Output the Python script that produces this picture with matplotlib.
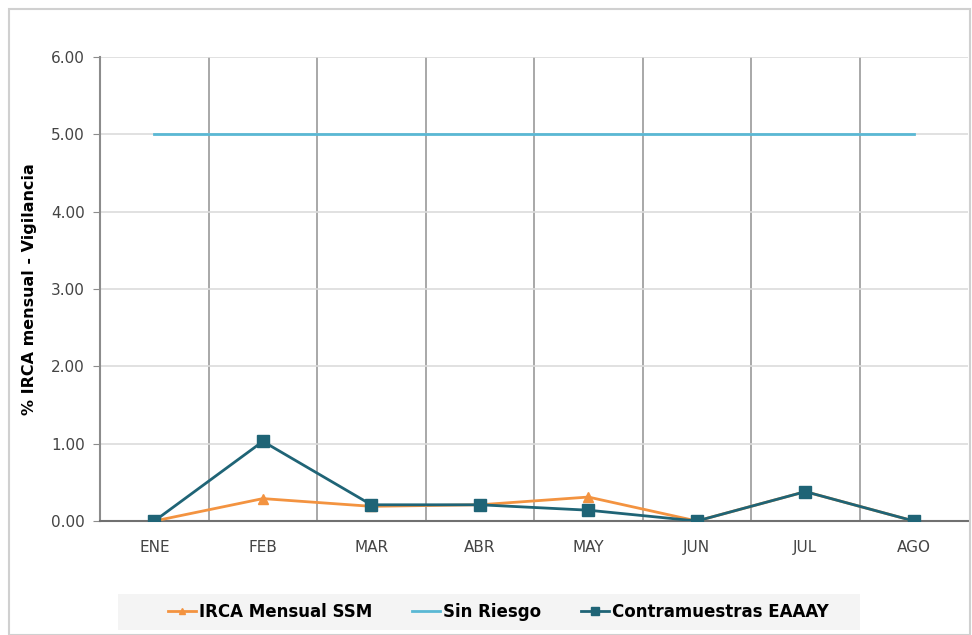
import numpy as np
import matplotlib.pyplot as plt
from matplotlib.patches import Rectangle

# data
meses = ["ENE", "FEB", "MAR", "ABR", "MAY", "JUN", "JUL", "AGO"]
irca_ssm = [0.0, 0.29, 0.19, 0.21, 0.31, 0.0, 0.38, 0.0]
sin_riesgo = [5.0, 5.0, 5.0, 5.0, 5.0, 5.0, 5.0, 5.0]
contramuestras = [0.0, 1.03, 0.21, 0.21, 0.14, 0.0, 0.38, 0.0]

x = np.arange(len(meses))

fig = plt.figure(figsize=(9.72, 6.35), dpi=100)
ax = fig.add_axes([0.103, 0.1795, 0.893, 0.7305])

# outer frame of the picture
fig.patches.append(Rectangle((0.009, 0.0), 0.989, 0.986, transform=fig.transFigure,
                             fill=False, edgecolor="#d0d0d0", lw=1.5))
# grey band behind the legend
fig.patches.append(Rectangle((118 / 972, 5 / 635), 742 / 972, 36 / 635, transform=fig.transFigure,
                             facecolor="#f4f4f4", edgecolor="none", zorder=0))

ax.plot(x, sin_riesgo, color="#5ab8d4", lw=2, label="Sin Riesgo", zorder=3)
ax.plot(x, irca_ssm, color="#f39340", lw=2, marker="^", ms=7, label="IRCA Mensual SSM", zorder=4)
ax.plot(x, contramuestras, color="#1f6476", lw=2, marker="s", ms=9, label="Contramuestras EAAAY", zorder=5)

ax.set_xlim(-0.5, 7.5)
ax.set_ylim(0, 6)
ax.set_xticks(x)
ax.set_xticklabels(meses)
ax.set_yticks(np.arange(0, 7, 1))
ax.set_yticklabels(["%.2f" % v for v in range(7)])
ax.set_xticks(np.arange(0.5, 7.5, 1), minor=True)

ax.grid(axis="y", color="#dcdcdc", lw=1.2)
ax.grid(axis="x", which="minor", color="#999999", lw=1.2)
ax.set_axisbelow(True)
for s in ["top", "right"]:
    ax.spines[s].set_visible(False)
ax.spines["left"].set_color("#8c8c8c")
ax.spines["bottom"].set_color("#707070")
ax.spines["left"].set_linewidth(1.5)
ax.spines["bottom"].set_linewidth(1.5)
ax.tick_params(axis="x", which="both", length=0, pad=14, labelsize=11, labelcolor="#444444")
ax.tick_params(axis="y", length=5, color="#8c8c8c", pad=6, labelsize=11, labelcolor="#444444")

ax.set_ylabel("% IRCA mensual - Vigilancia", fontsize=11.5, fontweight="bold", labelpad=10)

handles, labels = ax.get_legend_handles_labels()
order = [1, 0, 2]
leg = fig.legend([handles[i] for i in order], [labels[i] for i in order],
                 loc="center", bbox_to_anchor=(498 / 972, 0.0365), ncol=3, frameon=False,
                 prop={"weight": "bold", "size": 12}, handlelength=1.7,
                 handletextpad=0.15, columnspacing=2.4, markerscale=0.7,
                 borderpad=0, borderaxespad=0)

plt.savefig("out.png", dpi=100)
